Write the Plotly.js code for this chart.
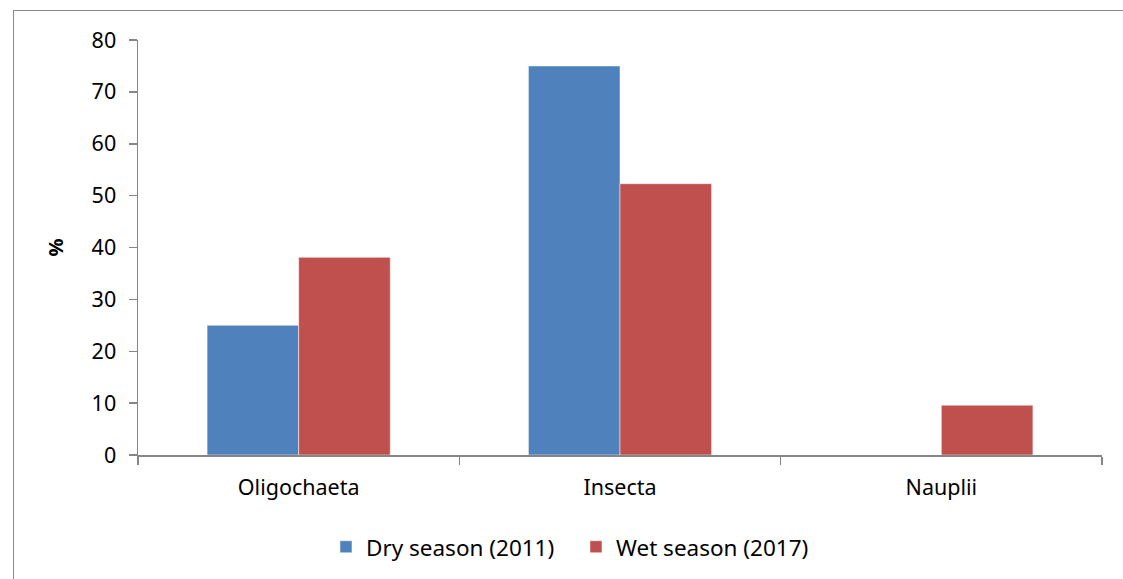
<!DOCTYPE html>
<html>
<head>
<meta charset="utf-8">
<script src="https://cdn.plot.ly/plotly-3.0.1.min.js"></script>
<style>
html,body{margin:0;padding:0;background:#fff;overflow:hidden;}
#chart{position:absolute;left:0;top:0;width:1123px;height:579px;}
#frame{position:absolute;left:13px;top:10px;width:1200px;height:700px;border:1.5px solid #898989;pointer-events:none;}
</style>
</head>
<body>
<div id="chart"></div>
<div id="frame"></div>
<script>
var categories = ["Oligochaeta", "Insecta", "Nauplii"];
var dryValues = [25, 75, 0];
var wetValues = [38.1, 52.3, 9.6];
var seriesNames = ["Dry season (2011)", "Wet season (2017)"];
var yTicks = [0, 10, 20, 30, 40, 50, 60, 70, 80];

var font = "'Noto Sans', 'Open Sans', sans-serif";

var traces = [
  {type: "bar", x: categories, y: dryValues, name: seriesNames[0],
   marker: {color: "#4F81BD", line: {color: "#ffffff", width: 0.5}}},
  {type: "bar", x: categories, y: wetValues, name: seriesNames[1],
   marker: {color: "#C0504D", line: {color: "#ffffff", width: 0.5}}}
];

var layout = {
  width: 1123, height: 579,
  margin: {l: 138, r: 21, t: 40, b: 123},
  paper_bgcolor: "#ffffff", plot_bgcolor: "#ffffff",
  barmode: "group", bargap: 0.43, bargroupgap: 0,
  font: {family: font, size: 21, color: "#000000"},
  showlegend: true,
  legend: {orientation: "h", x: 0.195, xanchor: "left", y: -0.219, yanchor: "middle",
           entrywidth: 205, entrywidthmode: "pixels",
           font: {family: font, size: 22.5, color: "#000"}, itemwidth: 30, traceorder: "normal"},
  xaxis: {
    type: "category", showgrid: false, zeroline: false,
    showline: true, linecolor: "#868686", linewidth: 1.5,
    ticks: "outside", tickson: "boundaries", ticklen: 8, tickcolor: "#868686", tickwidth: 1.5,
    tickfont: {family: font, size: 21.5, color: "#000"},
    ticklabelstandoff: 13, automargin: false
  },
  yaxis: {
    range: [0, 80], tickvals: yTicks, ticktext: yTicks.map(String),
    showgrid: false, zeroline: false,
    showline: true, linecolor: "#868686", linewidth: 1.5,
    ticks: "outside", ticklen: 8, tickcolor: "#868686", tickwidth: 1.5,
    tickfont: {family: font, size: 21.5, color: "#000"},
    ticklabelstandoff: 8, automargin: false,
    title: {text: "<b>%</b>", font: {family: font, size: 20, color: "#000"}, standoff: 22}
  }
};

Plotly.newPlot("chart", traces, layout, {displayModeBar: false, staticPlot: true});
</script>
</body>
</html>
